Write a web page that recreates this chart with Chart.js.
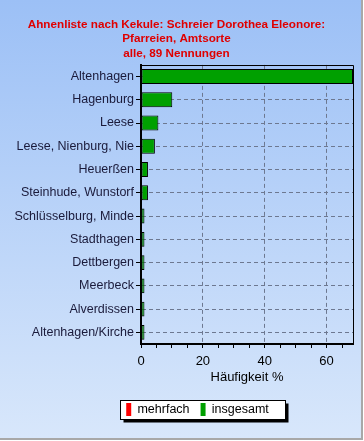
<!DOCTYPE html>
<html>
<head>
<meta charset="utf-8">
<script src="https://cdn.jsdelivr.net/npm/chart.js@4/dist/chart.umd.min.js"></script>
<style>
html,body{margin:0;padding:0;background:#fff;}
canvas{display:block;}
</style>
</head>
<body>
<canvas id="c" width="364" height="441"></canvas>
<script>
const titleLines = ["Ahnenliste nach Kekule: Schreier Dorothea Eleonore:", "Pfarreien, Amtsorte", "alle, 89 Nennungen"];
const categories = ["Altenhagen", "Hagenburg", "Leese", "Leese, Nienburg, Nie", "Heuerßen", "Steinhude, Wunstorf", "Schlüsselburg, Minde", "Stadthagen", "Dettbergen", "Meerbeck", "Alverdissen", "Altenhagen/Kirche"];
const mehrfach = [0, 0, 0, 0, 0, 0, 0, 0, 0, 0, 0, 0];
const insgesamt = [68.54, 10.11, 5.62, 4.49, 2.25, 2.25, 1.12, 1.12, 1.12, 1.12, 1.12, 1.12];
const xAxisTitle = "Häufigkeit %";
const xMax = 68.54;

const FONT = "'Liberation Sans', Arial, sans-serif";
const LEGEND_SHIFT = 21;

const bgPlugin = {
  id: 'bg',
  afterLayout(chart) {
    const lg = chart.legend;
    if (lg) { lg.left += LEGEND_SHIFT; lg.right += LEGEND_SHIFT; }
  },
  beforeDraw(chart) {
    const ctx = chart.ctx;
    ctx.save();
    ctx.fillStyle = '#ffffff';
    ctx.fillRect(0, 0, chart.width, chart.height);
    const g = ctx.createLinearGradient(0, 0, 0, 438);
    g.addColorStop(0, '#9cc0f6');
    g.addColorStop(1, '#d8e7fb');
    ctx.fillStyle = g;
    ctx.fillRect(0, 0, 361, 438);
    ctx.fillStyle = '#a8a8a8';
    ctx.fillRect(361, 0, 2, 440);
    ctx.fillRect(0, 438, 363, 2);
    ctx.restore();
  }
};

const legendFrame = {
  id: 'legendFrame',
  beforeDraw(chart) {
    const ctx = chart.ctx;
    const lg = chart.legend;
    if (!lg || !lg.legendHitBoxes || !lg.legendHitBoxes.length) return;
    let l = Infinity, r = -Infinity, t = Infinity;
    lg.legendHitBoxes.forEach(h => { l = Math.min(l, h.left); r = Math.max(r, h.left + h.width); t = Math.min(t, h.top); });
    const x0 = Math.round(l - 6) + 0.5, y0 = Math.round(t - 3) + 0.5, w = Math.round(r - l + 22), h = 19;
    ctx.save();
    ctx.fillStyle = '#000';
    ctx.fillRect(x0 + 3, y0 + 3, w, h);
    ctx.fillStyle = '#fff';
    ctx.fillRect(x0, y0, w, h);
    ctx.strokeStyle = '#000';
    ctx.lineWidth = 1;
    ctx.strokeRect(x0, y0, w, h);
    ctx.restore();
  },
  afterDatasetsDraw(chart) {
    const {ctx, chartArea: a} = chart;
    ctx.save();
    ctx.strokeStyle = '#000';
    ctx.lineWidth = 1;
    ctx.beginPath();
    ctx.moveTo(a.left, Math.round(a.top) + 0.5);
    ctx.lineTo(a.right + 0.5, Math.round(a.top) + 0.5);
    ctx.lineTo(Math.round(a.right) + 0.5, a.bottom);
    ctx.stroke();
    ctx.restore();
  }
};

new Chart(document.getElementById('c'), {
  type: 'bar',
  data: {
    labels: categories,
    datasets: [
      { label: 'mehrfach', data: mehrfach, backgroundColor: '#ff0000', borderColor: '#000', borderWidth: 0, grouped: false, order: 0 },
      { label: 'insgesamt', data: insgesamt, backgroundColor: '#00a000', borderColor: '#000', borderWidth: 1, borderSkipped: false, grouped: false, order: 1 }
    ]
  },
  options: {
    indexAxis: 'y',
    responsive: false,
    animation: false,
    devicePixelRatio: 1,
    categoryPercentage: 1,
    barPercentage: 0.64,
    layout: { padding: { left: 0, right: 11, top: 0, bottom: 15 } },
    plugins: {
      tooltip: { enabled: false },
      title: {
        display: true,
        text: titleLines,
        color: '#e00000',
        font: { family: FONT, size: 11.7, weight: 'bold', lineHeight: 1.25 },
        padding: { top: 17, bottom: 4 }
      },
      legend: {
        display: true,
        position: 'bottom',
        labels: {
          color: '#000',
          font: { family: FONT, size: 12.5 },
          boxWidth: 5,
          boxHeight: 13,
          padding: 11,
          generateLabels(chart) {
            return chart.data.datasets.map((d, i) => ({
              text: d.label, fillStyle: d.backgroundColor, strokeStyle: '#000', lineWidth: 0, hidden: false, datasetIndex: i, fontColor: '#000'
            }));
          }
        }
      }
    },
    scales: {
      x: {
        min: 0,
        max: xMax,
        afterFit(s) { s.height = 48; },
        ticks: {
          stepSize: 5,
          includeBounds: false,
          autoSkip: false,
          maxRotation: 0,
          color: '#000',
          padding: 6,
          font: { family: FONT, size: 13 },
          callback(v) { return v % 20 === 0 ? String(v) : ''; }
        },
        grid: {
          color(ctx) { return (ctx.tick && ctx.tick.value % 20 === 0 && ctx.tick.value !== 0) ? '#6d7890' : 'rgba(0,0,0,0)'; },
          tickColor: '#000',
          tickLength: 4,
          lineWidth: 1
        },
        border: { display: true, color: '#000', width: 2, dash: [4, 3] },
        title: {
          display: true,
          text: xAxisTitle,
          color: '#000',
          font: { family: FONT, size: 13 },
          padding: { top: 1, bottom: 7 }
        }
      },
      y: {
        afterFit(s) { s.width = 141; },
        ticks: {
          color: '#1a1a3a',
          padding: 2,
          autoSkip: false,
          font: { family: FONT, size: 12.5 }
        },
        grid: {
          offset: false,
          color: '#6d7890',
          tickColor: '#000',
          tickLength: 5,
          lineWidth: 1
        },
        border: { display: true, color: '#000', width: 2, dash: [4, 3] }
      }
    }
  },
  plugins: [bgPlugin, legendFrame]
});
</script>
</body>
</html>
